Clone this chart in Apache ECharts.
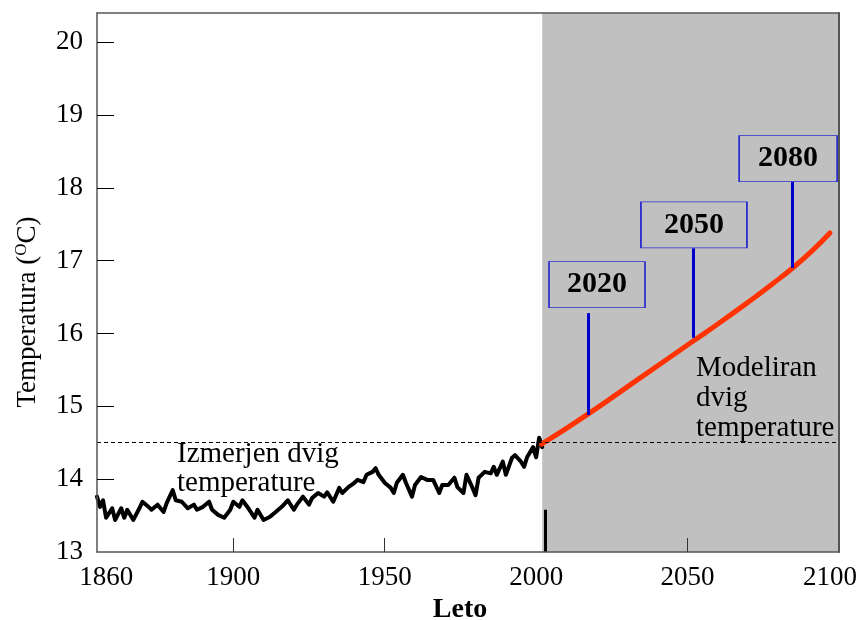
<!DOCTYPE html>
<html>
<head>
<meta charset="utf-8">
<script src="https://cdn.jsdelivr.net/npm/echarts@6/dist/echarts.min.js"></script>
<style>html,body{margin:0;padding:0;background:#fff}#c{width:863px;height:620px}</style>
</head>
<body>
<div id="c"></div>
<script>
const years = [1855,1856,1857,1858,1860,1861,1863,1864,1865,1867,1869,1870,1872,1873,1875,1877,1878,1880,1881,1883,
  1885,1887,1888,1890,1892,1893,1895,1897,1899,1900,1902,1903,1905,1907,1908,1910,1912,1914,1916,1918,
  1920,1921,1923,1925,1926,1928,1930,1931,1933,1935,1936,1938,1940,1941,1943,1944,1946,1947,1948,1950,
  1952,1953,1954,1956,1957,1959,1960,1962,1964,1966,1968,1969,1971,1973,1974,1976,1977,1979,1980,1981,
  1983,1985,1986,1987,1989,1990,1992,1993,1995,1996,1997,1999,2000,2001,2002];
const measured = [13.76,13.62,13.71,13.47,13.60,13.44,13.60,13.47,13.58,13.44,13.60,13.69,13.62,13.58,13.65,13.55,13.67,13.85,13.71,13.69,
  13.60,13.65,13.58,13.62,13.69,13.58,13.51,13.47,13.58,13.69,13.62,13.71,13.60,13.47,13.58,13.44,13.48,13.55,13.62,13.71,
  13.58,13.65,13.76,13.65,13.74,13.81,13.76,13.82,13.69,13.88,13.81,13.89,13.95,13.99,13.96,14.06,14.10,14.15,14.06,13.95,
  13.88,13.81,13.95,14.06,13.95,13.76,13.92,14.03,13.99,13.99,13.81,13.92,13.92,14.02,13.89,13.81,14.06,13.88,13.78,14.02,
  14.10,14.08,14.17,14.06,14.24,14.06,14.29,14.33,14.24,14.17,14.30,14.44,14.30,14.57,14.44];
// Modelled temperatures
const modelYears = [2001.8,2017,2034,2052,2060,2070,2078,2085,2091,2097];
const modelled = [14.48,14.89,15.38,15.90,16.13,16.43,16.68,16.91,17.13,17.38];
// Axis labels
const xLabels = [1860,1900,1950,2000,2050,2100];
const xTicks = [1900,1950,2050];
const yLabels = [13,14,15,16,17,18,19,20];
const yTicks = [14,15,16,17,18,19,20];
// Reference level and callouts
const refLevel = 14.5;
const shadeStart = 2002;
const calloutNames = ['2020','2050','2080'];
const calloutX = [2017.1,2051.8,2084.5];
const calloutLow = [14.88,15.94,16.90];
const calloutHigh = [16.28,17.17,18.08];
const boxX = [2020.1,2052.1,2083.2];
const boxY = [16.67,17.49,18.40];
const boxW = [96,106,98];

const serif = '"Liberation Serif","DejaVu Serif",serif';
const chart = echarts.init(document.getElementById('c'), null, {renderer:'canvas'});
const axisCol = '#555';

chart.setOption({
  animation:false,
  backgroundColor:'#fff',
  grid:{left:97,right:24,top:13,bottom:68,containLabel:false,outerBoundsMode:'none'},
  xAxis:[{
    type:'value', min:1855, max:2100, z:10,
    axisLine:{show:true,lineStyle:{color:axisCol,width:1.5}},
    axisTick:{show:true,inside:true,length:14,customValues:xTicks,lineStyle:{color:'#333',width:1}},
    axisLabel:{customValues:xLabels,
      formatter:v=>v===2100?'{r|2100}':(v===1860?'{l|1860}':String(v)),
      rich:{r:{fontFamily:serif,fontSize:27,color:'#000',padding:[0,18,0,0]},
            l:{fontFamily:serif,fontSize:27,color:'#000',padding:[0,12,0,0]}},
      fontFamily:serif,fontSize:27,color:'#000',margin:12},
    splitLine:{show:false},
    name:'Leto',nameLocation:'middle',nameGap:42,
    nameTextStyle:{fontFamily:serif,fontSize:28,fontWeight:'bold',color:'#000',padding:[0,16,0,0]}
  },{
    type:'value', position:'top', min:1855, max:2100, z:10,
    axisLine:{show:true,onZero:false,lineStyle:{color:axisCol,width:1.5}},
    axisTick:{show:false},axisLabel:{show:false},splitLine:{show:false}
  }],
  yAxis:[{
    type:'value', min:13, max:20.4, z:10,
    axisLine:{show:true,lineStyle:{color:axisCol,width:1.5}},
    axisTick:{show:true,inside:true,length:17,customValues:yTicks,lineStyle:{color:'#000',width:1}},
    axisLabel:{customValues:yLabels,formatter:v=>String(v),fontFamily:serif,fontSize:27,color:'#000',margin:14},
    splitLine:{show:false}
  },{
    type:'value', position:'right', min:13, max:20.4, z:10,
    axisLine:{show:true,onZero:false,lineStyle:{color:axisCol,width:2}},
    axisTick:{show:false},axisLabel:{show:false},splitLine:{show:false}
  }],
  series:[{
    name:'shade', type:'line', data:[], z:1,
    markArea:{silent:true,itemStyle:{color:'#c0c0c0'},data:[[{xAxis:shadeStart},{xAxis:2100}]]},
    markLine:{silent:true,symbol:'none',label:{show:false},
      lineStyle:{color:'#000',type:[4,3],width:1.2},
      data:[{yAxis:refLevel}]}
  },{
    name:'Izmerjen', type:'line', z:3, showSymbol:false, symbol:'none',
    lineStyle:{color:'#000',width:4,join:'round',cap:'round'},
    data:years.map((y,i)=>[y,measured[i]]),
    markLine:{silent:true,symbol:'none',label:{show:false},
      lineStyle:{color:'#000',width:3,type:'solid'},
      data:[[{coord:[2003,13]},{coord:[2003,13.58]}]]}
  },{
    name:'Modeliran', type:'line', z:4, smooth:true, showSymbol:false, symbol:'none',
    lineStyle:{color:'#ff3300',width:5,cap:'round'},
    data:modelYears.map((y,i)=>[y,modelled[i]]),
    markLine:{silent:true,symbol:'none',label:{show:false},
      lineStyle:{color:'#0000cc',width:3,type:'solid'},
      data:calloutX.map((x,i)=>[{coord:[x,calloutLow[i]]},{coord:[x,calloutHigh[i]]}])},
    markPoint:{silent:true,symbol:'rect',
      itemStyle:{color:'rgba(0,0,0,0)',borderColor:'#2d2dd0',borderWidth:1.2},
      label:{show:true,position:'inside',fontFamily:serif,fontSize:30,fontWeight:'bold',color:'#000'},
      data:calloutNames.map((n,i)=>({coord:[boxX[i],boxY[i]],symbolSize:[boxW[i],46],label:{formatter:n}}))}
  }],
  graphic:[
    {type:'text',x:177,y:440,z:20,style:{text:'Izmerjen dvig\ntemperature',font:'29px '+serif,lineHeight:29,fill:'#000'}},
    {type:'text',x:696,y:353,z:20,style:{text:'Modeliran\ndvig\ntemperature',font:'29px '+serif,lineHeight:30,fill:'#000'}},
    {type:'text',x:28,y:312,rotation:Math.PI/2,z:20,style:{
      text:'{a|Temperatura (}{s|O}{a|C)}',align:'center',verticalAlign:'middle',
      rich:{a:{fontFamily:serif,fontSize:27,fill:'#000',lineHeight:30},
            s:{fontFamily:serif,fontSize:17,fill:'#000',verticalAlign:'top',lineHeight:30}}}}
  ]
});
</script>
</body>
</html>
